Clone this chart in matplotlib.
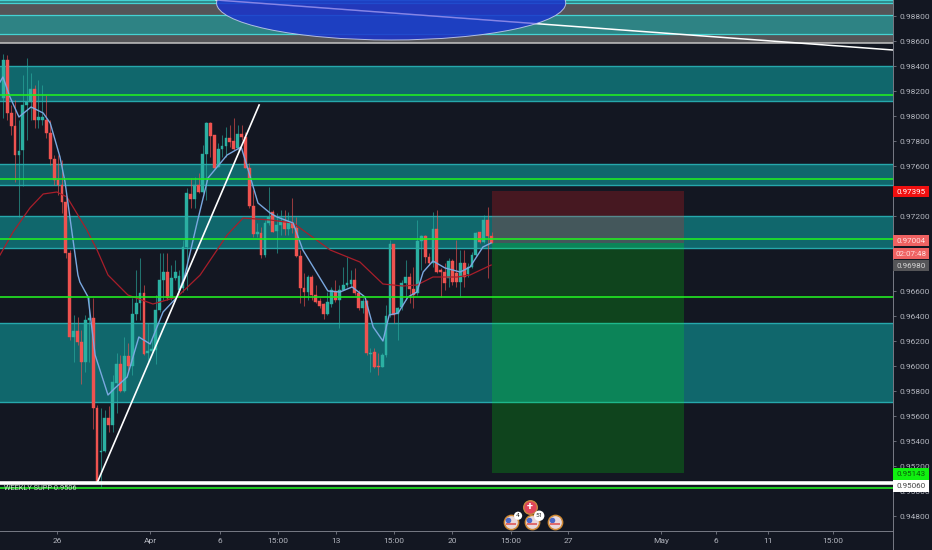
# EUR/CHF style candle chart with zones and a short position
import matplotlib
matplotlib.use("Agg")
import matplotlib.pyplot as plt
from matplotlib.lines import Line2D
from matplotlib.patches import Ellipse, Rectangle

plt.rcParams['font.family'] = ['Roboto', 'DejaVu Sans']

# candles, one entry per bar
opens = [.98144, .98448, .98024, .97920, .97688, .97728, .98088, .98112, .98216, .97968,
         .97968, .97968, .97864, .97656, .97488, .97448, .97312, .96904, .96232, .96280,
         .96192, .96032, .96368, .96384, .95664, .95312, .95320, .95584, .95528, .95864,
         .96016, .95800, .96080, .96000, .96416, .96504, .96584, .96104, .96120, .96128,
         .96448, .96688, .96752, .96544, .96704, .96608, .96624, .96952, .97376, .97336,
         .97448, .97392, .97696, .97944, .97848, .97592, .97736, .97760, .97824, .97800,
         .97744, .97856, .97832, .97584, .97280, .97056, .97064, .96888, .97144,
         .97232, .97080, .97128, .97160, .97096, .97144, .97104, .96880, .96624, .96592,
         .96712, .96568, .96520, .96496, .96416, .96496, .96600, .96528, .96608, .96648,
         .96656, .96688, .96584, .96464, .96520, .96096, .96112, .96000, .95992, .96088,
         .96408, .96976, .96416, .96472, .96664, .96712, .96616, .96584, .97000, .97040,
         .96872, .96824, .97096, .96768, .96752, .96704, .96840, .96744, .96672, .96824,
         .96736, .96792, .96888, .97072, .96992, .97168, .97040]
highs = [.98496, .98488, .98088, .98128, .97968, .98328, .98464, .98344, .98248, .98288,
         .98248, .98168, .97968, .97688, .97688, .97648, .97368, .96928, .96408, .96392,
         .96288, .96408, .96552, .96544, .95688, .95664, .95648, .95680, .95928, .96104,
         .96088, .96232, .96184, .96544, .96768, .96864, .96648, .96344, .96224, .96568,
         .96904, .96904, .96904, .96808, .96848, .96768, .97008, .97424, .97504, .97512,
         .97544, .97768, .97952, .97952, .97848, .97784, .97848, .97912, .97928, .97984,
         .97928, .97928, .97872, .97624, .97408, .97144, .97112, .97168, .97432,
         .97248, .97224, .97248, .97248, .97232, .97344, .97192, .96928, .96744, .96728,
         .96728, .96648, .96544, .96504, .96592, .96632, .96688, .96648, .96792, .96872,
         .96768, .96784, .96608, .96544, .96528, .96144, .96144, .96104, .96104, .96488,
         .97008, .96976, .96472, .96688, .96848, .96744, .96792, .97168, .97048, .97048,
         .96904, .97232, .97248, .96784, .96824, .96864, .96856, .97008, .96928, .96928,
         .96824, .96912, .97072, .97072, .97208, .97272, .97072]
lows = [.97984, .97968, .97848, .97472, .97192, .97440, .97808, .97968, .97904, .97904,
        .97928, .97824, .97608, .97448, .97368, .97224, .96864, .96208, .96032, .96168,
        .95856, .95952, .96032, .95496, .95064, .95032, .95312, .95472, .95472, .95624,
        .95792, .95792, .95952, .95928, .96368, .96368, .96088, .96024, .96104, .96016,
        .96432, .96528, .96528, .96528, .96688, .96592, .96592, .96608, .97264, .97264,
        .97384, .97384, .97328, .97672, .97584, .97592, .97672, .97672, .97752, .97728,
        .97728, .97808, .97584, .97264, .97032, .97032, .96864, .96872, .97128,
        .97072, .96904, .97048, .97048, .97048, .97064, .96872, .96504, .96480, .96528,
        .96528, .96504, .96464, .96376, .96408, .96472, .96512, .96304, .96608, .96632,
        .96632, .96568, .96448, .96424, .96088, .95952, .95984, .95928, .95992, .96072,
        .96392, .96344, .96208, .96448, .96528, .96504, .96464, .96568, .96768, .96824,
        .96808, .96792, .96744, .96552, .96608, .96632, .96648, .96632, .96552, .96632,
        .96712, .96784, .96872, .96984, .96984, .96704, .96984]
closes = [.98448, .98024, .97920, .97688, .97720, .98088, .98112, .98216, .97968, .97992,
          .97992, .97864, .97656, .97488, .97448, .97312, .96904, .96232, .96280, .96192,
          .96032, .96368, .96384, .95664, .95072, .95320, .95584, .95528, .95872, .96016,
          .95800, .96080, .96000, .96416, .96504, .96584, .96096, .96120, .96136, .96448,
          .96688, .96752, .96544, .96704, .96752, .96720, .96952, .97384, .97336, .97448,
          .97392, .97696, .97944, .97840, .97584, .97736, .97760, .97824, .97792, .97736,
          .97856, .97832, .97584, .97280, .97056, .97072, .96888, .97144, .97192,
          .97072, .97128, .97160, .97096, .97152, .97104, .96880, .96624, .96592, .96712,
          .96568, .96512, .96480, .96416, .96512, .96608, .96528, .96608, .96648, .96664,
          .96688, .96584, .96464, .96520, .96104, .96104, .95992, .95992, .96088, .96400,
          .96976, .96408, .96464, .96664, .96712, .96616, .96568, .97000, .97040, .96872,
          .96824, .97096, .96752, .96752, .96664, .96840, .96672, .96672, .96824, .96712,
          .96792, .96888, .97064, .96992, .97168, .97040, .96984]

# moving averages
blue_x = [-.85, -.1, 1.7, 4, 7.1, 10.2, 12, 14.5, 15.8, 17.6, 19.1, 19.6, 21.7, 23.5, 26.8, 28.6, 31.7,
          34.7, 37.6, 40.9, 44.5, 46.5, 49.6, 52.4, 57.3, 60.9, 62.7, 65.2, 68.3, 70.1, 74.2,
          76.7, 83.1, 86.2, 89.3, 92.6, 94.7, 97.2, 98.8, 101.1, 103.6, 105.9, 107.5, 110,
          113.1, 117, 119.5, 122.8, 124.9]
blue_y = [.98272, .98312, .98152, .97992, .98072, .98024, .97944, .97672, .97472, .97064, .96728, .96672,
          .96552, .96088, .95768, .95824, .95912, .96232, .96176, .96432, .96552, .96728,
          .97144, .97504, .97688, .97752, .97568, .97304, .97224, .97192, .97144, .96928,
          .96600, .96592, .96632, .96552, .96312, .96200, .96408, .96424, .96552, .96592,
          .96752, .96840, .96784, .96752, .96792, .96952, .96984]
red_x = [-.85, 2.5, 6.8, 10.2, 13.7, 16.3, 21.4, 24, 26.8, 31.9, 38.3, 44.5, 50.4, 57.3,
         61.4, 68.3, 74.2, 83.7, 91.3, 97.2, 102.3, 105.9, 110, 116.2, 119.5, 124.9]
red_y = [.96888, .97072, .97264, .97376, .97392, .97352, .97088, .96928, .96728, .96568,
         .96496, .96552, .96728, .97048, .97184, .97168, .97144, .96928, .96832, .96656,
         .96640, .96648, .96712, .96712, .96728, .96808]

# levels and zones
zones = [(.97448, .97616), (.96944, .97200), (.95712, .96348), (.98120, .98400)]
green_levels = [.98168, .97496, .97020, .96552, .95024]
top_band = (.98584, .98928)
top_zones = [(.98904, .98928), (.98656, .98808)]
position_bars = (125.1, 174.3)
position_prices = (.97400, .96984, .95144)
support_level = .95064
support_text = "WEEKLY SUPP 0.9506"
trend_x = [24, 65.5]
trend_y = [.95064, .98088]
fall_x = [54.5, 227.8]
fall_y = [.98928, .98528]

# axes labels, the ones under a price tag are not readable in the chart
y_ticks = [.988 - .002 * i for i in range(21)]
hidden_labels = ["0.97400", "0.97000", "0.96800"]
y_labels = ["" if "%.5f" % t in hidden_labels else "%.5f" % t for t in y_ticks]
x_ticks = [13.7, 37.6, 55.5, 70.3, 85.2, 100, 114.9, 130, 144.6, 168.4, 182.5, 195.8, 212.5]
x_labels = ["26", "Apr", "6", "15:00", "13", "15:00", "20", "15:00", "27", "May", "6", "11", "15:00"]

# right side price tags
tag_texts = ["0.97395", "0.97004", "02:07:48", "0.96980", "0.95143", "0.95060"]
tag_prices = [.97395, .97004, .96900, .96804, .95136, .95040]
tag_fills = ["#f01010", "#ef6262", "#ef6262", "#555558", "#10f010", "#ffffff"]
tag_inks = ["#ffffff", "#ffe0e0", "#ffe0e0", "#d8d8d8", "#0a5a0a", "#444444"]

# calendar events
event_x = [130, 135.4, 141.3]
event_badges = ["4", "51", ""]
event_price = .94752

BG = "#131722"
AXIS = "#787b86"
TEXT = "#b2b5be"
TEAL = (14 / 255, 170 / 255, 170 / 255)
UP = "#2bb0a2"
DOWN = "#ef5350"

fig = plt.figure(figsize=(9.32, 5.5), dpi=100, facecolor=BG)
ax = fig.add_axes([0, 19 / 550, 893 / 932, 531 / 550], facecolor=BG)
ax.set_xlim(-.853, 227.8)
ax.set_ylim(.9468, .98928)

# background zones
ax.axhspan(*top_band, color="#555558", lw=0, zorder=1)
ax.axhline(top_band[0], color="#c4c4c4", lw=1.1, zorder=1.2)
for low, high in top_zones:
    ax.axhspan(low, high, facecolor=TEAL, alpha=.55, lw=0, zorder=1.1)
    ax.axhline(low, color="#45d3d3", lw=.9, zorder=1.2)
    ax.axhline(high, color="#45d3d3", lw=.9, zorder=1.2)
for low, high in zones:
    ax.axhspan(low, high, facecolor=TEAL, alpha=.55, lw=0, zorder=1.1)
    ax.axhline(low, color="#26a8ac", lw=1, zorder=1.2)
    ax.axhline(high, color="#26a8ac", lw=1, zorder=1.2)

# candles
bars = range(len(opens))
colors = [UP if c >= o else DOWN for o, c in zip(opens, closes)]
ax.vlines(bars, lows, highs, colors=colors, lw=.75, alpha=.6, zorder=2)
ax.bar(bars, [abs(c - o) for o, c in zip(opens, closes)], bottom=[min(o, c) for o, c in zip(opens, closes)],
       width=.72, color=colors, edgecolor=colors, lw=.3, zorder=2.1)

ax.plot(red_x, red_y, color="#a81e2a", lw=.9, zorder=2.4)
ax.plot(blue_x, blue_y, color="#7aa8e0", lw=1, zorder=2.5)

# short position box
left, right = position_bars
stop, entry, target = position_prices
ax.add_patch(Rectangle((left, entry), right - left, stop - entry, facecolor=(1, .12, .12), alpha=.22, lw=0, zorder=3))
ax.add_patch(Rectangle((left, target), right - left, entry - target, facecolor=(0, .98, .04), alpha=.2, lw=0, zorder=3))

for level in green_levels:
    ax.axhline(level, color="#22ea22", lw=1.2, zorder=4)
ax.axhline(support_level, color="#ffffff", lw=2.6, zorder=4.1)
ax.text(0.2, .95021, support_text, color="#c8e8c8", fontsize=5.3, va="center", ha="left", zorder=4.2)

ax.plot(fall_x, fall_y, color="#ffffff", lw=1.1, zorder=4.3)
ax.plot(trend_x, trend_y, color="#ffffff", lw=1.2, zorder=4.3)
ellipse = Ellipse((99.3, .98904), 89.4, .00592, facecolor=(.1, .2, .8), edgecolor="#c8d0f0",
                  alpha=.85, lw=.7, zorder=4.5)
ax.add_patch(ellipse)
# the falling line shows through the blue ellipse only
inner, = ax.plot(fall_x, fall_y, color="#b8a8f0", lw=1, alpha=.6, zorder=4.6)
inner.set_clip_path(ellipse)

# event icons
ax.scatter([134.9], [.94872], s=95, color="#e0455a", edgecolors="#c88a40", linewidths=1, zorder=5)
ax.text(134.9, .94872, "+", color="white", fontsize=8, fontweight="bold", ha="center", va="center", zorder=5.1)
ax.scatter(event_x, [event_price] * 3, s=105, color="#e8d8dc", edgecolors="#d08a35", linewidths=1.1, zorder=5)
ax.scatter([x - .7 for x in event_x], [event_price + .00016] * 3, s=16, color="#4a68c8", lw=0, zorder=5.1)
ax.hlines([event_price - .00016] * 3, [x - 1.2 for x in event_x], [x + 1.2 for x in event_x],
          colors="#e06a6a", lw=1.4, zorder=5.1)
for x, badge in zip(event_x, event_badges):
    if badge:
        ax.text(x + 1.8, event_price + .0005, badge, color="#333333", fontsize=4.6, ha="center", va="center", zorder=5.3,
                bbox=dict(boxstyle="circle,pad=.25", fc="white", ec="none"))

# axes
for side in ("left", "top"):
    ax.spines[side].set_visible(False)
ax.spines["right"].set_color(AXIS)
ax.spines["bottom"].set_color(AXIS)
ax.spines["right"].set_linewidth(.7)
ax.spines["bottom"].set_linewidth(.7)
ax.yaxis.tick_right()
ax.set_yticks(y_ticks, y_labels)
ax.set_xticks(x_ticks, x_labels)
ax.tick_params(axis="y", colors=AXIS, labelcolor=TEXT, labelsize=6, length=2.5, width=.6, pad=2.5)
ax.tick_params(axis="x", colors=AXIS, labelcolor=TEXT, labelsize=6, length=2, width=.6, pad=3)
fig.add_artist(Line2D([893 / 932, 893 / 932], [0, 19 / 550], color=AXIS, lw=.7))

# price tags over the scale
box_w = 36 / 893
trans = ax.get_yaxis_transform()
for text, price, fill, ink in zip(tag_texts, tag_prices, tag_fills, tag_inks):
    ax.add_patch(Rectangle((1, price - .00045), box_w, .0009, facecolor=fill, lw=0, transform=trans,
                           clip_on=False, zorder=8))
    ax.text(1 + box_w / 2, price, text, color=ink, fontsize=5.8, ha="center", va="center", transform=trans,
            clip_on=False, zorder=9)

fig.savefig("out.png", dpi=100, facecolor=BG)
